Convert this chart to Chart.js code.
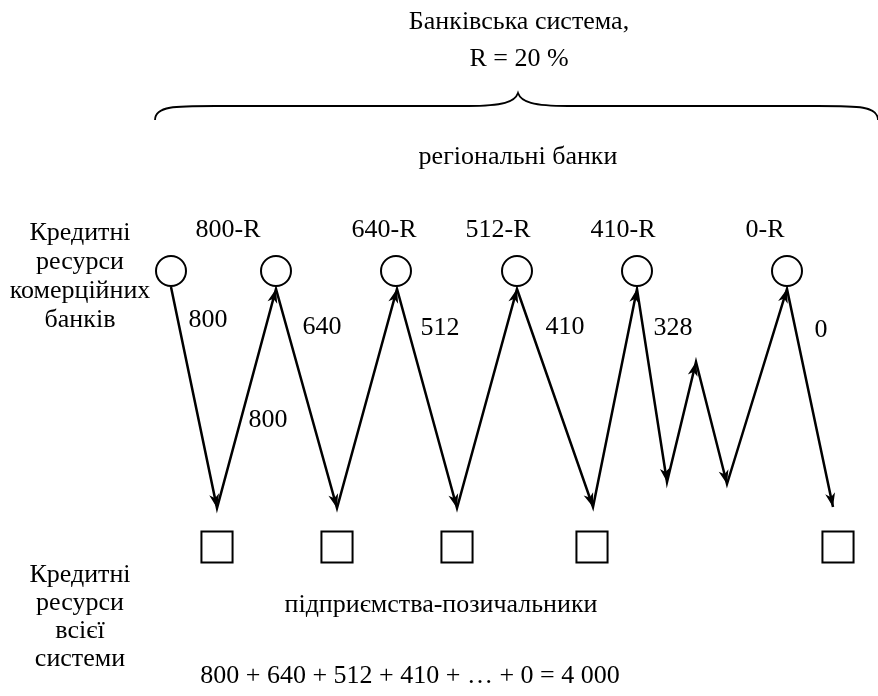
<!DOCTYPE html>
<html>
<head>
<meta charset="utf-8">
<script src="https://cdn.jsdelivr.net/npm/chart.js@4.4.1/dist/chart.umd.min.js"></script>
<style>
  html, body { margin: 0; padding: 0; background: #fff; }
  #wrap { width: 878px; height: 696px; }
</style>
</head>
<body>
<div id="wrap"><canvas id="scheme" width="878" height="696"></canvas></div>
<script>
// ---- Дані схеми ----
const titleLines = ['Банківська система,', 'R = 20 %'];
const regionLabel = 'регіональні банки';
const bankSideLabel = ['Кредитні', 'ресурси', 'комерційних', 'банків'];
const systemSideLabel = ['Кредитні', 'ресурси', 'всієї', 'системи'];
const firmsLabel = 'підприємства-позичальники';
const bankLabels = ['800-R', '640-R', '512-R', '410-R', '0-R'];
const loanValues = [800, 640, 512, 410, 328, 0];
const repayValue = 800;
const totalLine = '800 + 640 + 512 + 410 + … + 0 = 4 000';

// вузли (координати в одиницях шкал)
const bankX = [171, 276, 396, 517, 637, 787];
const bankY = 271;
const firmX = [217, 337, 457, 592, 838];
const firmY = 547;

// ламана грошового потоку
const flowX = [171, 217, 276, 337, 397, 457, 517, 593, 637, 667, 696, 727, 787, 833];
const flowY = [287, 508, 289, 508, 289, 508, 289, 507, 289, 482, 362, 484, 289, 507];

// ---- Розмітка підписів ----
const FONT = '26px "Liberation Serif", "Times New Roman", serif';
const titlePos = [[519, 22], [519, 59]];
const regionPos = [518, 157];
const bankSidePos = { x: 80, y: [233, 262, 291, 320] };
const systemSidePos = { x: 80, y: [575, 603, 631, 659] };
const firmsPos = [441, 605];
const totalPos = [410, 676];
const bankLabelPos = { x: [228, 384, 498, 623, 765], y: 230 };
const loanLabelPos = { x: [208, 322, 440, 565, 673, 821], y: [320, 327, 328, 327, 328, 330] };
const repayPos = [268, 420];
const brace = { x0: 155, x1: 878, tip: 518, yEnd: 120, yMid: 106, yTip: 93 };

function text(ctx, sx, sy, str, x, y) {
  ctx.fillText(str, sx.getPixelForValue(x), sy.getPixelForValue(y));
}

// Стрілка на кінці відрізка
function arrowHead(ctx, x0, y0, x1, y1) {
  const a = Math.atan2(y1 - y0, x1 - x0);
  const len = 14, half = 5, back = 10;
  ctx.save();
  ctx.translate(x1, y1);
  ctx.rotate(a);
  ctx.beginPath();
  ctx.moveTo(0, 0);
  ctx.lineTo(-len, -half);
  ctx.lineTo(-back, 0);
  ctx.lineTo(-len, half);
  ctx.closePath();
  ctx.fill();
  ctx.restore();
}

const schemePlugin = {
  id: 'scheme',
  afterDatasetsDraw(chart) {
    const { ctx, scales: { x: sx, y: sy } } = chart;
    ctx.save();
    ctx.fillStyle = '#000';
    ctx.strokeStyle = '#000';

    // стрілки
    for (let i = 1; i < flowX.length; i++) {
      arrowHead(ctx,
        sx.getPixelForValue(flowX[i - 1]), sy.getPixelForValue(flowY[i - 1]),
        sx.getPixelForValue(flowX[i]), sy.getPixelForValue(flowY[i]));
    }

    // фігурна дужка
    const px = (v) => sx.getPixelForValue(v);
    const py = (v) => sy.getPixelForValue(v);
    ctx.lineWidth = 1.8;
    ctx.beginPath();
    ctx.moveTo(px(brace.x0), py(brace.yEnd));
    ctx.bezierCurveTo(px(brace.x0), py(brace.yMid), px(brace.x0 + 20), py(brace.yMid), px(brace.x0 + 60), py(brace.yMid));
    ctx.lineTo(px(brace.tip - 50), py(brace.yMid));
    ctx.bezierCurveTo(px(brace.tip - 15), py(brace.yMid), px(brace.tip - 3), py(brace.yMid - 4), px(brace.tip), py(brace.yTip));
    ctx.bezierCurveTo(px(brace.tip + 3), py(brace.yMid - 4), px(brace.tip + 15), py(brace.yMid), px(brace.tip + 50), py(brace.yMid));
    ctx.lineTo(px(brace.x1 - 60), py(brace.yMid));
    ctx.bezierCurveTo(px(brace.x1 - 20), py(brace.yMid), px(brace.x1), py(brace.yMid), px(brace.x1), py(brace.yEnd));
    ctx.stroke();

    // підписи
    ctx.font = FONT;
    ctx.textAlign = 'center';
    ctx.textBaseline = 'middle';
    titleLines.forEach((t, i) => text(ctx, sx, sy, t, titlePos[i][0], titlePos[i][1]));
    text(ctx, sx, sy, regionLabel, regionPos[0], regionPos[1]);
    bankSideLabel.forEach((t, i) => text(ctx, sx, sy, t, bankSidePos.x, bankSidePos.y[i]));
    systemSideLabel.forEach((t, i) => text(ctx, sx, sy, t, systemSidePos.x, systemSidePos.y[i]));
    bankLabels.forEach((t, i) => text(ctx, sx, sy, t, bankLabelPos.x[i], bankLabelPos.y));
    loanValues.forEach((v, i) => text(ctx, sx, sy, String(v), loanLabelPos.x[i], loanLabelPos.y[i]));
    text(ctx, sx, sy, String(repayValue), repayPos[0], repayPos[1]);
    text(ctx, sx, sy, firmsLabel, firmsPos[0], firmsPos[1]);
    text(ctx, sx, sy, totalLine, totalPos[0], totalPos[1]);
    ctx.restore();
  },
};

new Chart(document.getElementById('scheme'), {
  type: 'scatter',
  data: {
    datasets: [
      {
        label: 'банки',
        data: bankX.map((x) => ({ x, y: bankY })),
        pointStyle: 'circle',
        pointRadius: 15,
        borderWidth: 2,
        borderColor: '#000',
        backgroundColor: '#fff',
        order: 0,
      },
      {
        label: 'підприємства',
        data: firmX.map((x) => ({ x, y: firmY })),
        pointStyle: 'rect',
        pointRadius: 22,
        borderWidth: 2,
        borderColor: '#000',
        backgroundColor: '#fff',
        order: 1,
      },
      {
        label: 'потік',
        type: 'line',
        data: flowX.map((x, i) => ({ x, y: flowY[i] })),
        borderColor: '#000',
        borderWidth: 2.5,
        pointRadius: 0,
        tension: 0,
        fill: false,
        order: 2,
      },
    ],
  },
  options: {
    responsive: false,
    animation: false,
    layout: { padding: 0, autoPadding: false },
    plugins: { legend: { display: false }, tooltip: { enabled: false } },
    scales: {
      x: { type: 'linear', min: 0, max: 878, display: false },
      y: { type: 'linear', min: 0, max: 696, reverse: true, display: false },
    },
  },
  plugins: [schemePlugin],
});
</script>
</body>
</html>
